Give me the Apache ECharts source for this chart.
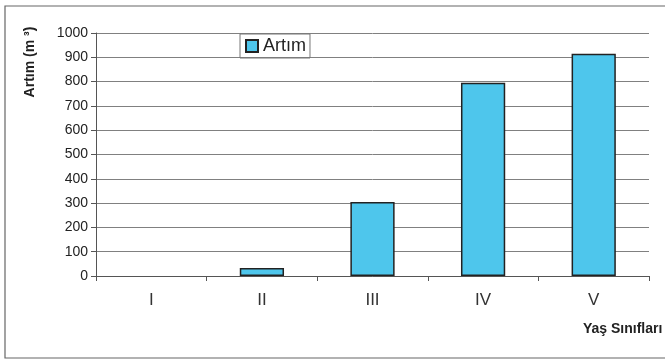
<!DOCTYPE html>
<html>
<head>
<meta charset="utf-8">
<script src="https://cdn.jsdelivr.net/npm/echarts@6/dist/echarts.min.js"></script>
<style>
  html, body { margin: 0; padding: 0; background: #fff; }
  #chart { width: 665px; height: 363px; }
</style>
</head>
<body>
<div id="chart"></div>
<script>
// yaş sınıflarına göre artım
var categories = ['I', 'II', 'III', 'IV', 'V'];
var artim = [0, 33, 305, 795, 915];
var yTicks = { min: 0, max: 1000, step: 100 };

var myChart = echarts.init(document.getElementById('chart'));
var font = 'Liberation Sans, Arial, sans-serif';

var option = {
  backgroundColor: '#fff',
  animation: false,
  graphic: [
    {
      type: 'rect',
      shape: { x: 5, y: 6, width: 700, height: 352 },
      style: { fill: 'none', stroke: '#666', lineWidth: 1.2 }
    },
    {
      type: 'text',
      x: 30, y: 62,
      rotation: Math.PI / 2,
      style: {
        text: 'Artım (m ³)', font: 'bold 14px ' + font, fill: '#222',
        align: 'center', verticalAlign: 'middle'
      }
    },
    {
      type: 'text',
      x: 583, y: 329,
      style: {
        text: 'Yaş Sınıfları', font: 'bold 14px ' + font, fill: '#222',
        align: 'left', verticalAlign: 'middle'
      }
    }
  ],
  legend: {
    left: 240, top: 34,
    orient: 'horizontal',
    borderColor: '#777', borderWidth: 1,
    padding: [3, 4, 3, 5],
    icon: 'rect',
    itemWidth: 12, itemHeight: 12, itemGap: 4,
    textStyle: { fontSize: 18, color: '#222', fontFamily: font },
    data: ['Artım']
  },
  grid: { left: 96, right: 16, top: 33, bottom: 87 },
  xAxis: {
    type: 'category',
    data: categories,
    axisLine: { lineStyle: { color: '#555', width: 1 } },
    axisTick: { show: true, alignWithLabel: false, length: 5, lineStyle: { color: '#555' } },
    axisLabel: { fontSize: 17, color: '#333', margin: 16, fontFamily: font }
  },
  yAxis: {
    type: 'value',
    min: yTicks.min, max: yTicks.max, interval: yTicks.step,
    axisLine: { show: true, lineStyle: { color: '#555', width: 1 } },
    axisTick: { show: true, length: 5, lineStyle: { color: '#555' } },
    axisLabel: { fontSize: 14, color: '#222', margin: 8, fontFamily: font,
      formatter: function (v) { return String(v); } },
    splitLine: { lineStyle: { color: '#808080', width: 1 } }
  },
  series: [
    {
      name: 'Artım',
      type: 'bar',
      // sıfır değerli çubuk çizilmesin
      data: artim.map(function (v) { return v === 0 ? '-' : v; }),
      barWidth: '40%',
      itemStyle: { color: '#4ec6ec', borderColor: '#222', borderWidth: 1.5 }
    }
  ]
};
option && myChart.setOption(option);
</script>
</body>
</html>
